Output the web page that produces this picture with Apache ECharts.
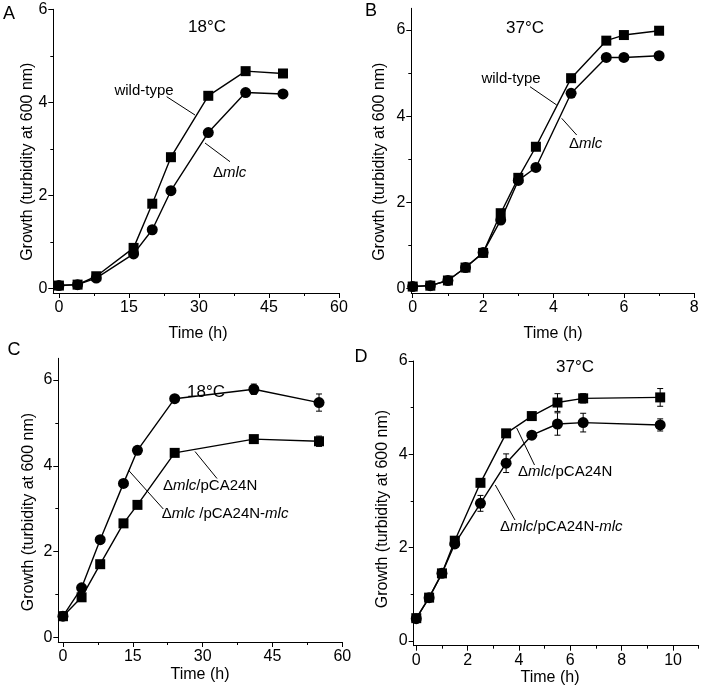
<!DOCTYPE html>
<html><head><meta charset="utf-8">
<script src="https://cdn.jsdelivr.net/npm/echarts@6/dist/echarts.min.js"></script>
<style>html,body{margin:0;padding:0;background:#fff}#c{width:703px;height:691px}</style>
</head><body><div id="c"></div>
<script>
// ---- data ----
const aTime = [0, 4, 8, 16, 20, 24, 32, 40, 48];
const aWild = [0.06, 0.08, 0.26, 0.87, 1.82, 2.82, 4.14, 4.67, 4.62];
const aMlc  = [0.06, 0.08, 0.22, 0.74, 1.26, 2.10, 3.35, 4.21, 4.18];

const bTime = [0, 0.5, 1, 1.5, 2, 2.5, 3, 3.5, 4.5, 5.5, 6, 7];
const bWild = [0.05, 0.07, 0.19, 0.49, 0.83, 1.75, 2.57, 3.29, 4.88, 5.75, 5.88, 5.98];
const bMlc  = [0.05, 0.07, 0.19, 0.49, 0.84, 1.59, 2.51, 2.81, 4.53, 5.36, 5.36, 5.40];

const cTime    = [0, 4, 8, 13, 16, 24, 41, 55];
const cVec     = [0.50, 0.94, 1.71, 2.66, 3.09, 4.30, 4.62, 4.57];
const cVecErr  = [0.04, 0.04, 0.04, 0.04, 0.04, 0.05, 0.05, 0.12];
const cComp    = [0.50, 1.16, 2.28, 3.59, 4.36, 5.56, 5.78, 5.47];
const cCompErr = [0.04, 0.04, 0.04, 0.04, 0.04, 0.05, 0.12, 0.20];

const dTime    = [0, 0.5, 1, 1.5, 2.5, 3.5, 4.5, 5.5, 6.5, 9.5];
const dVec     = [0.49, 0.93, 1.45, 2.15, 3.39, 4.45, 4.82, 5.11, 5.20, 5.22];
const dVecErr  = [0.03, 0.03, 0.04, 0.05, 0.05, 0.05, 0.05, 0.19, 0.10, 0.19];
const dComp    = [0.48, 0.93, 1.45, 2.08, 2.95, 3.81, 4.41, 4.65, 4.68, 4.63];
const dCompErr = [0.03, 0.03, 0.04, 0.05, 0.17, 0.20, 0.06, 0.24, 0.20, 0.13];

const xTicksAC = [0, 15, 30, 45, 60];
const xMinorAC = [7.5, 22.5, 37.5, 52.5];
const xTicksB  = [0, 2, 4, 6, 8];
const xMinorB  = [1, 3, 5, 7];
const xTicksD  = [0, 2, 4, 6, 8, 10];
const xMinorD  = [1, 3, 5, 7, 9, 11];
const yTicks   = [0, 2, 4, 6];
const yMinor   = [1, 3, 5];

const FONT = 'Liberation Sans';
const BLACK = '#000';

const panels = [
  {grid:{left:53.3, top:9.3, width:285.7, height:283.7}, x:[-1.2,60], y:[-0.1,6],   xt:xTicksAC, xm:xMinorAC},
  {grid:{left:411.3, top:8.3, width:283, height:284.7},  x:[-0.04,8], y:[-0.1,6.5], xt:xTicksB, xm:xMinorB},
  {grid:{left:58.3, top:358.3, width:284, height:283.7}, x:[-1,60],   y:[-0.1,6.5], xt:xTicksAC, xm:xMinorAC},
  {grid:{left:413.7, top:361, width:285, height:284.7},  x:[-0.1,11], y:[-0.1,6],   xt:xTicksD, xm:xMinorD}
];

const grid = panels.map(p => p.grid);
const xAxis = [], yAxis = [];
const labelStyle = {color: BLACK, fontSize: 16, fontFamily: FONT, fontWeight:'normal'};
panels.forEach((p, i) => {
  xAxis.push({gridIndex:i, type:'value', position:'bottom', min:p.x[0], max:p.x[1],
    axisLine:{onZero:false, lineStyle:{color:BLACK, width:1}},
    axisTick:{show:true, inside:false, length:5, customValues:p.xt, lineStyle:{color:BLACK}},
    axisLabel:Object.assign({customValues:p.xt, margin:7}, labelStyle),
    splitLine:{show:false}});
  yAxis.push({gridIndex:i, type:'value', position:'left', min:p.y[0], max:p.y[1],
    axisLine:{show:true, onZero:false, lineStyle:{color:BLACK, width:1}},
    axisTick:{show:true, inside:false, length:5, customValues:yTicks, lineStyle:{color:BLACK}},
    axisLabel:Object.assign({customValues:yTicks, margin:6}, labelStyle),
    splitLine:{show:false}});
});
panels.forEach((p, i) => {
  xAxis.push({gridIndex:i, type:'value', position:'bottom', offset:0, min:p.x[0], max:p.x[1],
    axisLine:{show:false, onZero:false},
    axisTick:{show:true, inside:false, length:3, customValues:p.xm, lineStyle:{color:BLACK}},
    axisLabel:{show:false}, splitLine:{show:false}});
  yAxis.push({gridIndex:i, type:'value', position:'left', offset:0, min:p.y[0], max:p.y[1],
    axisLine:{show:false, onZero:false},
    axisTick:{show:true, inside:false, length:3, customValues:yMinor, lineStyle:{color:BLACK}},
    axisLabel:{show:false}, splitLine:{show:false}});
});

function zip(t, v, e) { return t.map((x, k) => e ? [x, v[k], e[k]] : [x, v[k]]); }
function lineSeries(i, t, v, sym, size) {
  return {type:'line', xAxisIndex:i, yAxisIndex:i, data:zip(t, v), symbol:sym, symbolSize:size,
    lineStyle:{color:BLACK, width:1.4}, itemStyle:{color:BLACK}, z:3, silent:true};
}
function errRender(params, api) {
  const x = api.value(0), y = api.value(1), e = api.value(2);
  const a = api.coord([x, y + e]), b = api.coord([x, y - e]);
  const w = 3, st = {stroke:BLACK, lineWidth:1};
  return {type:'group', children:[
    {type:'line', shape:{x1:a[0], y1:a[1], x2:b[0], y2:b[1]}, style:st},
    {type:'line', shape:{x1:a[0]-w, y1:a[1], x2:a[0]+w, y2:a[1]}, style:st},
    {type:'line', shape:{x1:b[0]-w, y1:b[1], x2:b[0]+w, y2:b[1]}, style:st}
  ]};
}
function errSeries(i, t, v, e) {
  return {type:'custom', xAxisIndex:i, yAxisIndex:i, data:zip(t, v, e), renderItem:errRender,
    encode:{x:0, y:1}, z:2, silent:true};
}

const series = [
  lineSeries(0, aTime, aWild, 'rect', 10),
  lineSeries(0, aTime, aMlc, 'circle', 11),
  lineSeries(1, bTime, bWild, 'rect', 10),
  lineSeries(1, bTime, bMlc, 'circle', 11),
  errSeries(2, cTime, cVec, cVecErr),
  errSeries(2, cTime, cComp, cCompErr),
  lineSeries(2, cTime, cVec, 'rect', 10),
  lineSeries(2, cTime, cComp, 'circle', 11),
  errSeries(3, dTime, dVec, dVecErr),
  errSeries(3, dTime, dComp, dCompErr),
  lineSeries(3, dTime, dVec, 'rect', 10),
  lineSeries(3, dTime, dComp, 'circle', 11)
];

// ---- text / annotations ----
function txt(x, y, s, size, align, extra) {
  return Object.assign({type:'text', x:x, y:y, z:10, style:{text:s, fontSize:size, fontFamily:FONT,
    fontWeight:'normal', fill:BLACK, align:align || 'center', verticalAlign:'middle'}}, extra || {});
}
const richStyle = {
  n:{fontSize:15, fontFamily:FONT, fontWeight:'normal', fill:BLACK},
  i:{fontSize:15, fontFamily:FONT, fontWeight:'normal', fontStyle:'italic', fill:BLACK}
};
function rtxt(x, y, s) {
  return {type:'text', x:x, y:y, z:10, style:{text:s, rich:richStyle, fontSize:15, fontFamily:FONT,
    fontWeight:'normal', fill:BLACK, align:'left', verticalAlign:'middle'}};
}
function seg(x1, y1, x2, y2) {
  return {type:'line', z:10, shape:{x1:x1, y1:y1, x2:x2, y2:y2}, style:{stroke:BLACK, lineWidth:1}};
}
const yTitle = 'Growth (turbidity at 600 nm)';
const graphic = [
  txt(9, 14, 'A', 18), txt(371, 11, 'B', 18), txt(14, 350, 'C', 18), txt(361, 357, 'D', 18),
  txt(207, 27, '18°C', 17), txt(525, 28, '37°C', 17), txt(206, 392, '18°C', 17), txt(575, 367, '37°C', 17),
  txt(27.5, 161.7, yTitle, 16, 'center', {rotation:Math.PI/2}),
  txt(379.5, 161.7, yTitle, 16, 'center', {rotation:Math.PI/2}),
  txt(28.7, 512, yTitle, 16, 'center', {rotation:Math.PI/2}),
  txt(382.7, 509, yTitle, 16, 'center', {rotation:Math.PI/2}),
  txt(198, 334, 'Time (h)', 16), txt(553, 334, 'Time (h)', 16),
  txt(200, 675, 'Time (h)', 16), txt(550, 678, 'Time (h)', 16),
  // panel A
  txt(144, 90.5, 'wild-type', 15), seg(166.7, 96.7, 195, 115),
  rtxt(213, 172.5, '{n|Δ}{i|mlc}'), seg(230, 161.7, 205, 143),
  // panel B
  txt(511, 79, 'wild-type', 15), seg(530, 86.7, 556.7, 105), seg(561.7, 118.3, 576.7, 135),
  rtxt(569, 143.5, '{n|Δ}{i|mlc}'),
  // panel C
  rtxt(163, 485.5, '{n|Δ}{i|mlc}{n|/pCA24N}'), seg(217, 478.5, 195, 451.5),
  rtxt(161.7, 514, '{n|Δ}{i|mlc}{n| /pCA24N-}{i|mlc}'), seg(163.3, 509, 128.3, 470),
  // panel D
  rtxt(518, 471.5, '{n|Δ}{i|mlc}{n|/pCA24N}'), seg(534.5, 465, 516.7, 428),
  rtxt(500, 526.5, '{n|Δ}{i|mlc}{n|/pCA24N-}{i|mlc}'), seg(515, 520, 495.3, 485)
];

const chart = echarts.init(document.getElementById('c'), null, {renderer:'canvas'});
chart.setOption({
  animation:false, backgroundColor:'#fff',
  grid:grid, xAxis:xAxis, yAxis:yAxis, series:series, graphic:graphic
});
</script></body></html>
